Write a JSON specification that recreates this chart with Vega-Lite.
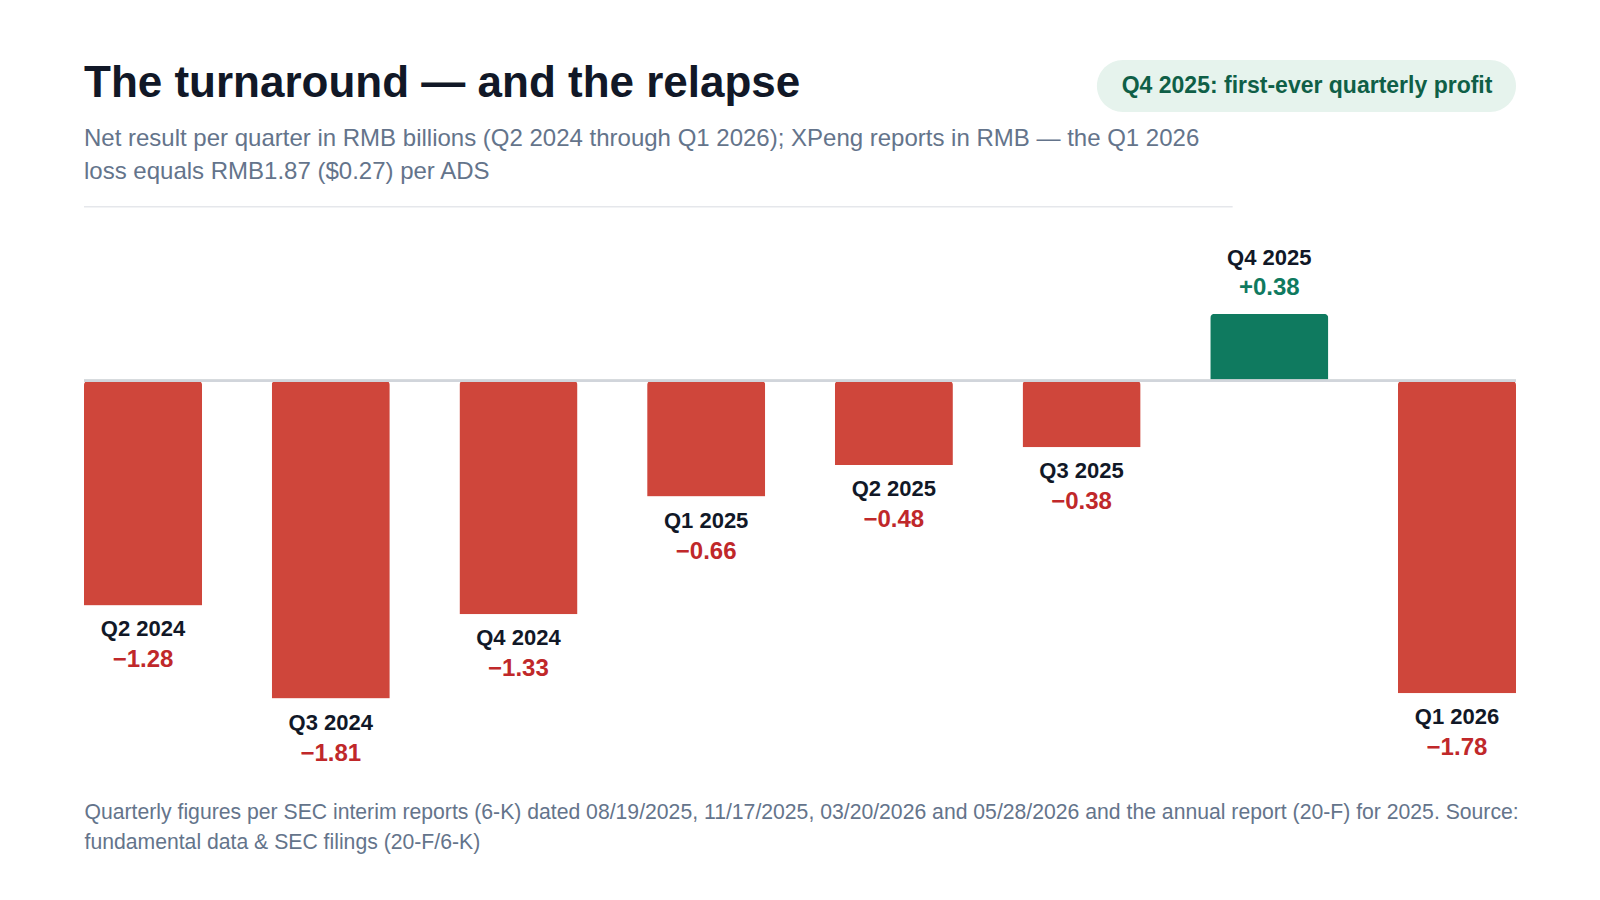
{
  "$schema": "https://vega.github.io/schema/vega-lite/v6.json",
  "description": "XPeng net result per quarter, RMB billions",
  "autosize": {"type": "none"},
  "padding": {"left": 84, "right": 84, "top": 205, "bottom": 133},
  "width": 1432,
  "height": 562,
  "background": "#ffffff",
  "config": {
    "font": "Liberation Sans",
    "view": {"stroke": null}
  },
  "title": {
    "text": "The turnaround — and the relapse",
    "subtitle": [
      "Net result per quarter in RMB billions (Q2 2024 through Q1 2026); XPeng reports in RMB — the Q1 2026",
      "loss equals RMB1.87 ($0.27) per ADS"
    ],
    "anchor": "start",
    "frame": "group",
    "fontSize": 44,
    "fontWeight": "bold",
    "color": "#111827",
    "subtitleFontSize": 24,
    "subtitleColor": "#64748b",
    "subtitleLineHeight": 33,
    "subtitlePadding": 21,
    "offset": -124
  },
  "datasets": {
    "quarters": [
      {"quarter": "Q2 2024", "value": -1.28},
      {"quarter": "Q3 2024", "value": -1.81},
      {"quarter": "Q4 2024", "value": -1.33},
      {"quarter": "Q1 2025", "value": -0.66},
      {"quarter": "Q2 2025", "value": -0.48},
      {"quarter": "Q3 2025", "value": -0.38},
      {"quarter": "Q4 2025", "value": 0.38},
      {"quarter": "Q1 2026", "value": -1.78}
    ],
    "notes": [
      {"note": "Q4 2025: first-ever quarterly profit"}
    ]
  },
  "data": {"name": "quarters"},
  "layer": [
    {
      "mark": {"type": "bar", "cornerRadiusEnd": 4},
      "encoding": {
        "x": {
          "field": "quarter",
          "type": "nominal",
          "sort": null,
          "scale": {
            "domain": ["Q2 2024", "Q3 2024", "Q4 2024", "Q1 2025", "Q2 2025", "Q3 2025", "Q4 2025", "Q1 2026"],
            "paddingInner": 0.371,
            "paddingOuter": 0
          },
          "axis": {
            "labels": false,
            "ticks": false,
            "domain": false,
            "grid": false,
            "title": [
              "Quarterly figures per SEC interim reports (6-K) dated 08/19/2025, 11/17/2025, 03/20/2026 and 05/28/2026 and the annual report (20-F) for 2025. Source:",
              "fundamental data & SEC filings (20-F/6-K)"
            ],
            "titleFontSize": 21.2,
            "titleFontWeight": "normal",
            "titleColor": "#64748b",
            "titleAnchor": "start",
            "titleAlign": "left",
            "titleBaseline": "top",
            "titleLineHeight": 30,
            "titlePadding": 34
          }
        },
        "y": {
          "field": "value",
          "type": "quantitative",
          "scale": {"domain": [-2.2, 1.0], "nice": false, "zero": true},
          "axis": null
        },
        "color": {
          "condition": {"test": "datum.value > 0", "value": "#0f7a5f"},
          "value": "#cf463b"
        }
      }
    },
    {
      "mark": {"type": "rule", "color": "#d1d5db", "strokeWidth": 2},
      "encoding": {
        "y": {"datum": 0, "type": "quantitative"}
      }
    },
    {
      "transform": [{"filter": "datum.value < 0"}],
      "mark": {"type": "text", "dy": 31, "baseline": "alphabetic", "align": "center", "fontSize": 22, "fontWeight": "bold", "color": "#111827"},
      "encoding": {
        "x": {"field": "quarter", "type": "nominal", "bandPosition": 0.5},
        "y": {"field": "value", "type": "quantitative"},
        "text": {"field": "quarter"}
      }
    },
    {
      "transform": [{"filter": "datum.value < 0"}],
      "mark": {"type": "text", "dy": 62, "baseline": "alphabetic", "align": "center", "fontSize": 24, "fontWeight": "bold", "color": "#c0282a"},
      "encoding": {
        "x": {"field": "quarter", "type": "nominal", "bandPosition": 0.5},
        "y": {"field": "value", "type": "quantitative"},
        "text": {"field": "value", "format": "+.2f"}
      }
    },
    {
      "transform": [{"filter": "datum.value > 0"}],
      "mark": {"type": "text", "dy": -49, "baseline": "alphabetic", "align": "center", "fontSize": 22, "fontWeight": "bold", "color": "#111827"},
      "encoding": {
        "x": {"field": "quarter", "type": "nominal", "bandPosition": 0.5},
        "y": {"field": "value", "type": "quantitative"},
        "text": {"field": "quarter"}
      }
    },
    {
      "transform": [{"filter": "datum.value > 0"}],
      "mark": {"type": "text", "dy": -19, "baseline": "alphabetic", "align": "center", "fontSize": 24, "fontWeight": "bold", "color": "#0f7a5f"},
      "encoding": {
        "x": {"field": "quarter", "type": "nominal", "bandPosition": 0.5},
        "y": {"field": "value", "type": "quantitative"},
        "text": {"field": "value", "format": "+.2f"}
      }
    },
    {
      "data": {"name": "notes"},
      "mark": {"type": "rule", "color": "#e5e7eb", "strokeWidth": 1.5},
      "encoding": {
        "x": {"datum": "Q2 2024", "type": "nominal", "bandPosition": 0},
        "x2": {"datum": "Q4 2025", "bandPosition": 0.19},
        "y": {"datum": 0.99, "type": "quantitative"}
      }
    },
    {
      "data": {"name": "notes"},
      "mark": {"type": "rect", "color": "#e6f3ed", "cornerRadius": 26},
      "encoding": {
        "x": {"datum": "Q3 2025", "type": "nominal", "bandPosition": 0.63},
        "x2": {"datum": "Q1 2026", "bandPosition": 1},
        "y": {"datum": 1.826, "type": "quantitative"},
        "y2": {"datum": 1.529}
      }
    },
    {
      "data": {"name": "notes"},
      "mark": {"type": "text", "align": "center", "baseline": "middle", "fontSize": 23, "fontWeight": "bold", "color": "#0f5f47"},
      "encoding": {
        "x": {"datum": "Q4 2025", "type": "nominal", "bandPosition": 0.82},
        "y": {"datum": 1.677, "type": "quantitative"},
        "text": {"field": "note"}
      }
    }
  ]
}
